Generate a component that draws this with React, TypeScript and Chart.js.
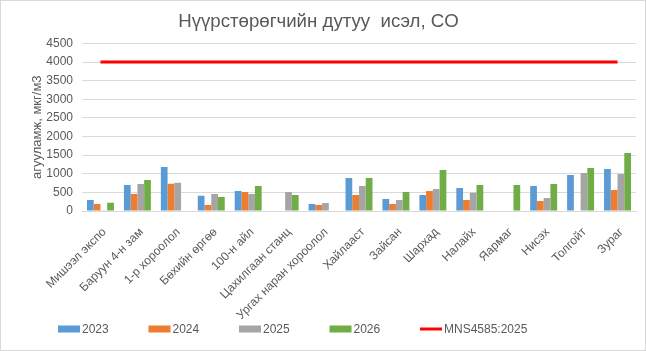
import React, { useEffect, useRef } from "react";
import { Chart, registerables } from "chart.js";

Chart.register(...registerables);

const categories = [
  "Мишээл экспо",
  "Баруун 4-н зам",
  "1-р хороолол",
  "Бөхийн өргөө",
  "100-н айл",
  "Цахилгаан станц",
  "Ургах наран хороолол",
  "Хайлааст",
  "Зайсан",
  "Шархад",
  "Налайх",
  "Яармаг",
  "Нисэх",
  "Толгойт",
  "Зураг",
];

const v2023 = [295, 696, 1179, 410, 536, null, 188, 884, 321, 429, 616, null, 670, 964, 1125];
const v2024 = [188, 455, 732, 160, 509, null, 160, 429, 188, 536, 295, null, 268, null, 563];
const v2025 = [20, 723, 759, 455, 455, 509, 214, 670, 295, 589, 491, null, 348, 1018, 991];
const v2026 = [223, 830, null, 375, 670, 429, null, 884, 509, 1098, 696, 696, 723, 1152, 1554];
const limitValue = 4000;
const limitSeries = categories.map(() => limitValue);

const seriesLabels = ["2023", "2024", "2025", "2026", "MNS4585:2025"];
const yTicks = { min: 0, max: 4500, step: 500 };

const FONT = '"Liberation Sans", Arial, sans-serif';
const TEXT = "#595959";
const GRID = "#d9d9d9";

const legendPlugin = {
  id: "excelLegend",
  afterDraw(chart: any) {
    const ctx = chart.ctx;
    const startX = 57;
    const y = 328;
    const step = 90.5;
    ctx.save();
    ctx.font = `12px ${FONT}`;
    ctx.textBaseline = "middle";
    ctx.textAlign = "left";
    chart.data.datasets.forEach((ds: any, i: number) => {
      const x = startX + i * step;
      if (ds.type === "line") {
        ctx.strokeStyle = ds.borderColor;
        ctx.lineWidth = 3;
        ctx.beginPath();
        ctx.moveTo(x, y);
        ctx.lineTo(x + 22, y);
        ctx.stroke();
      } else {
        ctx.fillStyle = ds.backgroundColor;
        ctx.fillRect(x, y - 3.5, 22, 7);
      }
      ctx.fillStyle = TEXT;
      ctx.fillText(ds.label, x + 24, y + 0.5);
    });
    ctx.restore();
  },
};

export default function App() {
  const ref = useRef<HTMLCanvasElement | null>(null);

  useEffect(() => {
    document.body.style.margin = "0";
    if (!ref.current) return;
    const barCommon = { barPercentage: 1, categoryPercentage: 0.73, borderWidth: 0 };
    const chart = new Chart(ref.current, {
      type: "bar",
      data: {
        labels: categories,
        datasets: [
          { type: "bar", label: seriesLabels[0], data: v2023, backgroundColor: "#5B9BD5", ...barCommon },
          { type: "bar", label: seriesLabels[1], data: v2024, backgroundColor: "#ED7D31", ...barCommon },
          { type: "bar", label: seriesLabels[2], data: v2025, backgroundColor: "#A5A5A5", ...barCommon },
          { type: "bar", label: seriesLabels[3], data: v2026, backgroundColor: "#70AD47", ...barCommon },
          {
            type: "line",
            label: seriesLabels[4],
            data: limitSeries,
            borderColor: "#FF0000",
            backgroundColor: "#FF0000",
            borderWidth: 3,
            pointRadius: 0,
            fill: false,
          },
        ] as any,
      },
      options: {
        animation: false,
        responsive: false,
        maintainAspectRatio: false,
        layout: { padding: { left: 0, right: 9, top: 0, bottom: 29 } },
        plugins: {
          legend: { display: false },
          tooltip: { enabled: false },
          title: {
            display: true,
            text: "Нүүрстөрөгчийн дутуу  исэл, CO",
            color: TEXT,
            font: { family: FONT, size: 18.67, weight: "normal" },
            padding: { top: 10, bottom: 10 },
          },
        },
        scales: {
          x: {
            grid: { display: false },
            border: { display: true, color: GRID, width: 1 },
            ticks: {
              color: TEXT,
              font: { family: FONT, size: 12 },
              minRotation: 45,
              maxRotation: 45,
              autoSkip: false,
              padding: 6,
              labelOffset: 4,
            },
            afterFit: (scale: any) => {
              scale.height = 110;
            },
          },
          y: {
            min: yTicks.min,
            max: yTicks.max,
            grid: { color: GRID, drawTicks: false },
            border: { display: false },
            ticks: {
              stepSize: yTicks.step,
              color: TEXT,
              font: { family: FONT, size: 12 },
              padding: 9,
              callback: (value: any) => String(value),
            },
            title: {
              display: true,
              text: "агууламж, мкг/м3",
              color: TEXT,
              font: { family: FONT, size: 13, weight: "normal" },
              padding: { top: 29, bottom: 0 },
            },
            afterFit: (scale: any) => {
              scale.width = 81;
            },
          },
        },
      },
      plugins: [legendPlugin],
    });
    return () => chart.destroy();
  }, []);

  return (
    <div
      style={{
        position: "relative",
        width: 646,
        height: 351,
        boxSizing: "border-box",
        border: "1px solid #d9d9d9",
        background: "#fff",
      }}
    >
      <canvas ref={ref} width={644} height={349} style={{ display: "block", width: 644, height: 349 }} />
    </div>
  );
}
